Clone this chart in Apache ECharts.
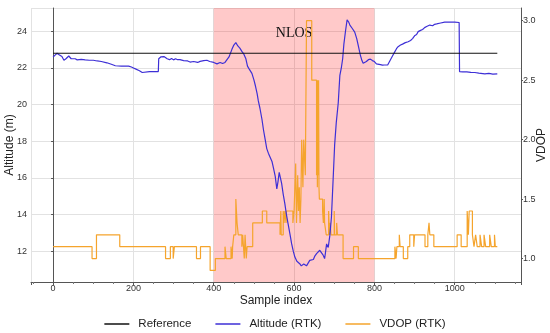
<!DOCTYPE html>
<html>
<head>
<meta charset="utf-8">
<script src="https://cdn.jsdelivr.net/npm/echarts@6/dist/echarts.min.js"></script>
<style>html,body{margin:0;padding:0;background:#fff;}#chart{width:550px;height:333px;}</style>
</head>
<body>
<div id="chart"></div>
<script>
// ---- data ----
const seriesNames = ['Reference', 'Altitude (RTK)', 'VDOP (RTK)'];
const referenceSamples = [0, 1106];
const referenceAltitude = 22.8;
const nlosRange = [400, 800];
const nlosLabel = 'NLOS';

const altitudeSamples = [0,5,10,15,18,22,27,32,39,45,55,60,70,80,90,100,110,120,134,145,155,170,188,195,200,205,209,215,222,226,240,262,263,268,271,276,284,290,295,300,305,310,316,325,335,341,350,360,366,375,383,390,400,408,416,422,428,432,438,445,450,455,460,465,470,475,480,484,488,491,495,500,504,508,511,515,520,524,528,532,536,540,545,549,553,557,560,563,566,569,573,577,581,585,590,594,598,602,607,614,618,621,624,627,631,635,639,643,648,652,656,660,664,668,672,676,678,681,685,689,693,697,701,705,710,714,718,721,724,728,732,736,739,745,751,756,760,765,769,772,776,780,785,790,795,800,805,809,815,820,825,833,840,845,850,855,859,865,870,877,884,890,895,900,905,909,915,920,925,930,938,945,950,955,965,975,985,1000,1011,1012,1020,1030,1040,1050,1060,1075,1085,1095,1106];
const altitudeValues = [22.6,22.7,22.8,22.72,22.8,22.62,22.42,22.5,22.65,22.5,22.5,22.44,22.47,22.44,22.42,22.42,22.38,22.35,22.28,22.2,22.12,22.1,22.1,22.05,22.0,21.95,21.9,21.85,21.75,21.82,21.8,21.8,22.5,22.6,22.55,22.62,22.5,22.45,22.52,22.44,22.5,22.45,22.45,22.4,22.38,22.32,22.35,22.3,22.36,22.4,22.42,22.35,22.3,22.22,22.3,22.24,22.3,22.28,22.6,23.0,23.25,23.38,23.2,23.08,22.9,22.75,22.5,22.1,21.95,21.85,21.7,21.35,21.0,20.6,20.2,19.8,19.2,18.6,18.1,17.6,17.35,17.3,16.9,16.5,16.1,15.4,15.8,16.3,16.0,15.7,15.1,14.6,14.0,13.5,12.9,12.4,12.0,11.68,11.45,11.32,11.2,11.1,11.3,11.4,11.2,11.35,11.5,11.6,11.55,11.75,11.87,11.95,12.05,11.95,11.8,11.6,11.9,12.4,12.2,12.85,13.85,15.8,17.8,19.0,20.1,21.6,22.05,22.5,23.3,24.0,24.62,24.5,24.34,24.15,23.95,23.6,23.2,22.7,22.4,22.25,22.28,22.35,22.45,22.48,22.4,22.35,22.22,22.16,22.18,22.15,22.16,22.16,22.45,22.65,22.85,23.05,23.16,23.25,23.3,23.38,23.43,23.5,23.6,23.75,23.82,23.98,24.05,24.1,24.2,24.26,24.34,24.3,24.38,24.4,24.45,24.5,24.5,24.5,24.48,21.8,21.78,21.78,21.76,21.75,21.72,21.68,21.7,21.66,21.68];

const vdopSamples = [0,97,108,166,280,292,299,302,357,367,391,404,428,431,443,446,447,450,455,458,461,470,472,476,478,481,483,497,521,532,565,567,568,573,575,577,580,581,597,600,604,606,609,611,613,615,617,619,622,624,628,631,644,656,657,658,659,660,661,662,663,671,673,675,676,680,686,688,690,692,700,701,706,708,722,748,760,851,854,856,862,864,872,883,888,898,900,926,933,936,938,948,1006,1016,1031,1034,1036,1044,1048,1052,1056,1063,1067,1073,1077,1087,1091,1099,1101,1106];
const vdopValues = [1.1,1.0,1.2,1.1,1.0,1.1,1.0,1.1,1.0,1.1,0.9,1.0,1.1,1.0,1.1,1.0,1.1,1.2,1.5,1.3,1.2,1.1,1.2,1.0,1.2,1.0,1.1,1.3,1.4,1.3,1.2,1.4,1.2,1.4,1.3,1.4,1.3,1.4,1.3,1.4,1.8,1.3,1.7,1.4,1.6,1.3,1.5,2.0,1.6,2.0,1.7,3.0,2.5,1.7,2.5,1.6,2.5,1.7,2.5,1.6,1.5,1.4,1.3,1.5,1.3,1.2,1.4,1.2,1.3,1.2,1.4,1.2,1.3,1.2,1.0,1.1,1.0,1.1,1.0,1.1,1.2,1.1,1.0,1.1,1.2,1.1,1.2,1.1,1.2,1.3,1.2,1.1,1.2,1.1,1.4,1.2,1.4,1.2,1.1,1.2,1.1,1.2,1.1,1.2,1.1,1.2,1.1,1.2,1.1,1.1];

// ---- chart ----
const zip = (xs, ys) => xs.map((x, i) => [x, ys[i]]);
const font = 'Liberation Sans, Arial, Helvetica, sans-serif';
const chart = echarts.init(document.getElementById('chart'), null, {renderer: 'canvas'});
chart.setOption({
  animation: false,
  backgroundColor: '#fff',
  grid: {left: 31, right: 29, top: 8, bottom: 51, containLabel: false, outerBoundsMode: 'none'},
  legend: {
    data: seriesNames,
    top: 313, left: 'center',
    icon: 'rect',
    itemWidth: 25, itemHeight: 1.5, itemGap: 24,
    textStyle: {fontFamily: font, fontSize: 11.5, color: '#222', padding: [0, 0, 0, 4]}
  },
  xAxis: {
    type: 'value', min: -55, max: 1165,
    name: 'Sample index', nameLocation: 'middle', nameGap: 13, nameMoveOverlap: false,
    nameTextStyle: {fontFamily: font, fontSize: 12, color: '#222'},
    axisLine: {show: true, onZero: false, lineStyle: {color: '#555', width: 1}},
    axisTick: {show: true, length: 3, lineStyle: {color: '#555'}},
    minorTick: {show: true, splitNumber: 4, length: 2, lineStyle: {color: '#777'}},
    axisLabel: {fontFamily: font, fontSize: 9, color: '#333', margin: 2, showMinLabel: false, showMaxLabel: false,
      formatter: v => String(v)},
    splitLine: {show: true, lineStyle: {color: '#e2e2e2', width: 1}}
  },
  yAxis: [{
    type: 'value', min: 10.32, max: 25.27, splitNumber: 7,
    name: 'Altitude (m)', nameLocation: 'middle', nameGap: 15, nameMoveOverlap: false,
    nameTextStyle: {fontFamily: font, fontSize: 12, color: '#222'},
    axisLine: {show: true, lineStyle: {color: '#555', width: 1}},
    axisTick: {show: true, length: 2, lineStyle: {color: '#555'}},
    axisLabel: {fontFamily: font, fontSize: 9, color: '#333', margin: 4, showMinLabel: false, showMaxLabel: false,
      formatter: v => String(v)},
    splitLine: {show: true, lineStyle: {color: '#e2e2e2', width: 1}}
  }, {
    type: 'value', position: 'right', min: 0.803, max: 3.107,
    name: 'VDOP', nameLocation: 'middle', nameGap: 15, nameRotate: 90, nameMoveOverlap: false,
    nameTextStyle: {fontFamily: font, fontSize: 12, color: '#222'},
    axisLine: {show: true, lineStyle: {color: '#555', width: 1}},
    axisTick: {show: true, length: 2, lineStyle: {color: '#555'}},
    axisLabel: {fontFamily: font, fontSize: 9, color: '#333', margin: 2, showMinLabel: false, showMaxLabel: false,
      formatter: v => v.toFixed(1)},
    splitLine: {show: false}
  }],
  series: [{
    name: seriesNames[0], type: 'line', yAxisIndex: 0, symbol: 'none', z: 4,
    data: referenceSamples.map(x => [x, referenceAltitude]),
    lineStyle: {color: '#111', width: 1.1}, itemStyle: {color: '#111'},
    markArea: {
      silent: true,
      itemStyle: {color: 'rgba(255,0,0,0.21)'},
      label: {show: true, position: 'insideTop', distance: 18, fontFamily: 'Liberation Serif, Times New Roman, serif', fontSize: 14, color: '#111'},
      data: [[{xAxis: nlosRange[0], name: nlosLabel}, {xAxis: nlosRange[1]}]]
    }
  }, {
    name: seriesNames[1], type: 'line', yAxisIndex: 0, symbol: 'none', z: 3,
    data: zip(altitudeSamples, altitudeValues),
    lineStyle: {color: '#3d2fd6', width: 1.2}, itemStyle: {color: '#3d2fd6'}
  }, {
    name: seriesNames[2], type: 'line', yAxisIndex: 1, symbol: 'none', step: 'end', z: 2,
    data: zip(vdopSamples, vdopValues),
    lineStyle: {color: '#f5a42c', width: 1.2}, itemStyle: {color: '#f5a42c'}
  }]
});
</script>
</body>
</html>
